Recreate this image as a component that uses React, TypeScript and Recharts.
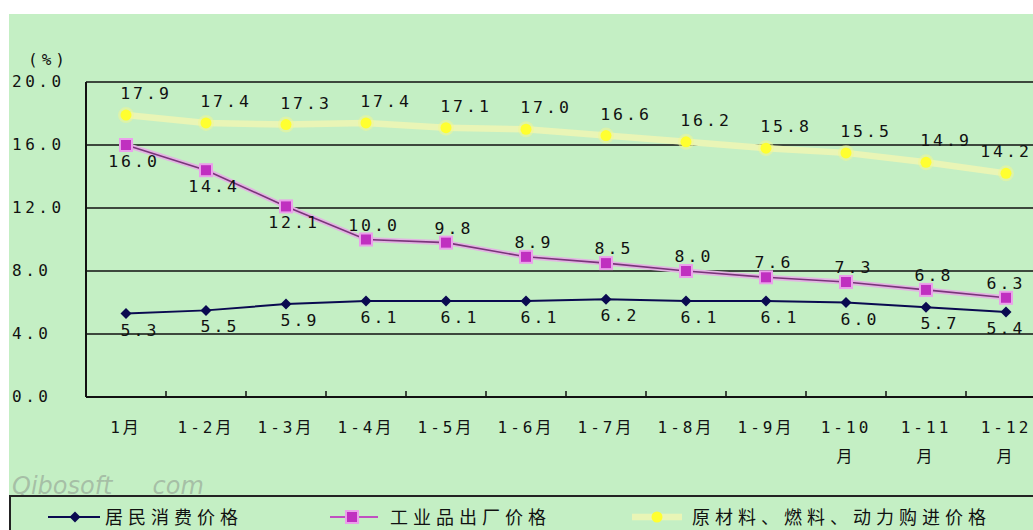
import React from "react";
import { LineChart, Line, XAxis, YAxis, CartesianGrid, LabelList } from "recharts";

const categories = ["1月", "1-2月", "1-3月", "1-4月", "1-5月", "1-6月", "1-7月", "1-8月", "1-9月", "1-10月", "1-11月", "1-12月"];
const cpi = [5.3, 5.5, 5.9, 6.1, 6.1, 6.1, 6.2, 6.1, 6.1, 6.0, 5.7, 5.4];
const ppi = [16.0, 14.4, 12.1, 10.0, 9.8, 8.9, 8.5, 8.0, 7.6, 7.3, 6.8, 6.3];
const raw = [17.9, 17.4, 17.3, 17.4, 17.1, 17.0, 16.6, 16.2, 15.8, 15.5, 14.9, 14.2];
const yTicks = [0, 4, 8, 12, 16, 20];
const seriesNames = ["居民消费价格", "工业品出厂价格", "原材料、燃料、动力购进价格"];
const ppiLabelBelow = [true, true, true, false, false, false, false, false, false, false, false, false];

const data = categories.map((c, i) => ({ cat: c, cpi: cpi[i], ppi: ppi[i], raw: raw[i] }));

const FONT = "'DejaVu Sans Mono', 'Noto Sans CJK SC', monospace";
const GREEN = "#c4efc4";
const VIEW_W = 1033;

const XTick = (p: any) => {
  const v: string = p.payload.value;
  const lines = v.length > 4 ? [v.slice(0, v.length - 1), "月"] : [v];
  return (
    <g>
      {p.index < categories.length - 1 && (
        <line x1={p.x + 40} x2={p.x + 40} y1={p.y} y2={p.y - 6} stroke="#111" strokeWidth={1.5} />
      )}
      {lines.map((t, k) => (
        <text key={k} x={p.x} y={p.y + 36 + k * 29} textAnchor="middle" fontFamily={FONT} fontSize={16} letterSpacing={3} fill="#111">
          {t}
        </text>
      ))}
    </g>
  );
};

const YTick = (p: any) => (
  <text x={12} y={p.y + 5} textAnchor="start" fontFamily={FONT} fontSize={16} letterSpacing={3.5} fill="#111">
    {Number(p.payload.value).toFixed(1)}
  </text>
);

const mkLabel = (dx: number, dyFn: (i: number) => number) => (p: any) => {
  const cx = Math.min(p.x + dx, VIEW_W - 27);
  return (
    <text x={cx} y={p.y + dyFn(p.index)} textAnchor="middle" fontFamily={FONT} fontSize={16.5} letterSpacing={3} fill="#111">
      {Number(p.value).toFixed(1)}
    </text>
  );
};

const Diamond = (p: any) => (
  <polygon key={p.index} points={`${p.cx},${p.cy - 5.5} ${p.cx + 5.5},${p.cy} ${p.cx},${p.cy + 5.5} ${p.cx - 5.5},${p.cy}`} fill="#0a0a50" />
);
const Square = (p: any) => (
  <rect key={p.index} x={p.cx - 6} y={p.cy - 6} width={12} height={12} fill="#c030c0" stroke="#eaa0ea" strokeWidth={2} />
);
const YDot = (p: any) => (
  <g key={p.index}>
    <circle cx={p.cx} cy={p.cy} r={8} fill="#f4f890" opacity={0.5} />
    <circle cx={p.cx} cy={p.cy} r={5.5} fill="#ffff30" />
  </g>
);

export default function App() {
  return (
    <div style={{ position: "fixed", left: 0, top: 0, width: VIEW_W, height: 530, overflow: "hidden", background: "#fff" }}>
      <div style={{ position: "absolute", left: 9, top: 14, right: 0, bottom: 0, background: GREEN }} />
      <div style={{ position: "absolute", left: 28, top: 50, fontFamily: FONT, fontSize: 16, letterSpacing: 4, color: "#111" }}>(%)</div>
      <div style={{ position: "absolute", left: 0, top: 0 }}>
        <LineChart width={1060} height={530} data={data} margin={{ top: 82, left: 0, right: 14, bottom: 0 }}>
          <CartesianGrid horizontal vertical={false} stroke="#111" strokeWidth={1.5} />
          <XAxis dataKey="cat" height={133} interval={0} padding={{ left: 40, right: 40 }} tickSize={0} tickMargin={0} tickLine={false} axisLine={{ stroke: "#111", strokeWidth: 2 }} tick={XTick} />
          <YAxis width={86} domain={[0, 20]} ticks={yTicks} tickSize={0} tickMargin={0} tickLine={false} axisLine={{ stroke: "#111", strokeWidth: 2 }} tick={YTick} />
          <Line dataKey="raw" stroke="#e9f5b6" strokeWidth={6.5} dot={YDot} isAnimationActive={false}>
            <LabelList dataKey="raw" content={mkLabel(20, () => -16)} />
          </Line>
          <Line dataKey="ppi" stroke="#e2b4e2" strokeWidth={5} dot={false} isAnimationActive={false} />
          <Line dataKey="ppi" stroke="#7a347a" strokeWidth={1.6} dot={Square} isAnimationActive={false}>
            <LabelList dataKey="ppi" content={mkLabel(8, (i) => (ppiLabelBelow[i] ? 22 : -9))} />
          </Line>
          <Line dataKey="cpi" stroke="#0a0a50" strokeWidth={2} dot={Diamond} isAnimationActive={false}>
            <LabelList dataKey="cpi" content={mkLabel(14, () => 22)} />
          </Line>
        </LineChart>
      </div>
      <div style={{ position: "absolute", left: 12, top: 472, fontFamily: "'DejaVu Sans', sans-serif", fontStyle: "italic", fontSize: 24, color: "rgba(140,150,140,0.55)" }}>
        Qibosoft<span style={{ marginLeft: 40 }}>com</span>
      </div>
      <div style={{ position: "absolute", left: 9, top: 495, width: 1040, height: 40, borderTop: "2px solid #222", borderLeft: "2px solid #222" }} />
      <svg style={{ position: "absolute", left: 0, top: 500 }} width={VIEW_W} height={30}>
        <line x1={48} x2={100} y1={17} y2={17} stroke="#0a0a50" strokeWidth={2} />
        <polygon points="75,11.5 80.5,17 75,22.5 69.5,17" fill="#0a0a50" />
        <line x1={330} x2={378} y1={17} y2={17} stroke="#c050c0" strokeWidth={2} />
        <rect x={346} y={11} width={12} height={12} fill="#c030c0" stroke="#eaa0ea" strokeWidth={2} />
        <line x1={632} x2={682} y1={17} y2={17} stroke="#e9f5b6" strokeWidth={6.5} />
        <circle cx={657} cy={17} r={5.5} fill="#ffff30" />
        {[105, 390, 692].map((x, i) => (
          <text key={i} x={x} y={24} fontFamily="'Noto Sans CJK SC', sans-serif" fontSize={18} letterSpacing={5} fill="#111">
            {seriesNames[i]}
          </text>
        ))}
      </svg>
    </div>
  );
}
